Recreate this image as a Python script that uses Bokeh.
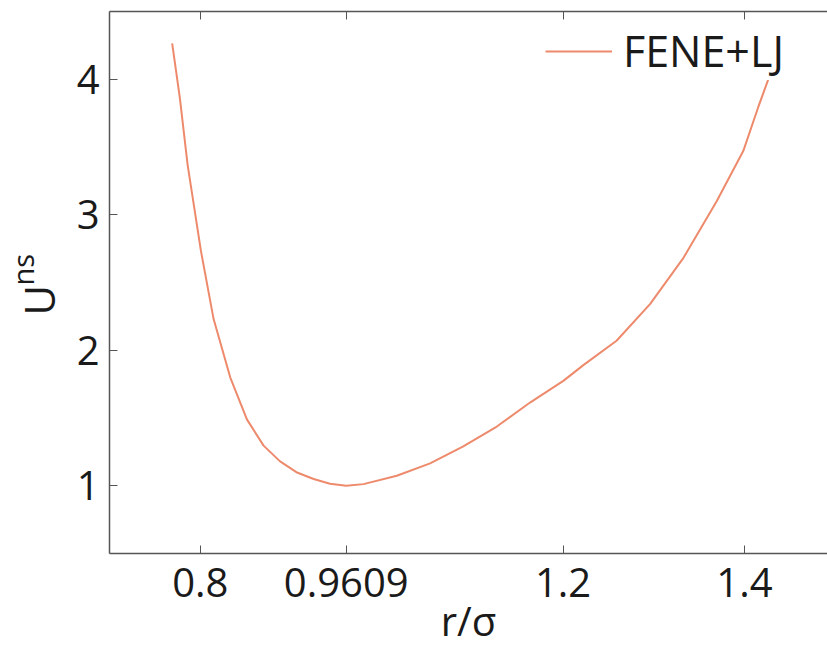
from bokeh.plotting import figure
from bokeh.models import FixedTicker, LinearAxis, Title, Range1d
from bokeh.embed import file_html
from bokeh.resources import INLINE

# data
r_vals = [0.769, 0.7775, 0.786, 0.8008, 0.8147, 0.833, 0.8514, 0.8698, 0.888, 0.906,
          0.925, 0.943, 0.9609, 0.98, 1.0167, 1.0534, 1.09, 1.127, 1.1636, 1.2003,
          1.2224, 1.259, 1.2959, 1.3326, 1.3694, 1.3987, 1.415, 1.428, 1.433]
u_vals = [4.265, 3.86, 3.37, 2.73, 2.23, 1.80, 1.49, 1.296, 1.18, 1.10,
          1.05, 1.015, 1.0, 1.012, 1.074, 1.165, 1.29, 1.437, 1.614, 1.774,
          1.89, 2.07, 2.34, 2.68, 3.10, 3.47, 3.79, 4.03, 4.12]
x_ticks = [0.8, 0.9609, 1.2, 1.4]
x_tick_labels = ["0.8", "0.9609", "1.2", "1.4"]
y_ticks = [1, 2, 3, 4]
series_name = "FENE+LJ"
x_label = "r/σ"
y_label_main = "U"
y_label_sup = "ns"

FONT = "Open Sans"
AX = "#555555"
TXT = "#1a1a1a"

p = figure(width=827, height=650, output_backend="svg", toolbar_location=None,
           x_range=Range1d(0.6999, 1.4916), y_range=Range1d(0.5, 4.5),
           min_border_left=109, min_border_right=0, min_border_top=11,
           min_border_bottom=97)
p.outline_line_color = None
p.grid.visible = False
p.background_fill_color = "white"
p.border_fill_color = "white"

p.line(r_vals, u_vals, line_color="#EE8A6C", line_width=2, legend_label=series_name)

for ax in (p.xaxis[0], p.yaxis[0]):
    ax.axis_line_color = AX
    ax.axis_line_width = 1.5
    ax.major_tick_line_color = AX
    ax.major_tick_in = 8
    ax.major_tick_out = 0
    ax.minor_tick_line_color = None
    ax.major_label_text_font = FONT
    ax.major_label_text_font_size = "40px"
    ax.major_label_text_color = TXT

p.xaxis[0].ticker = FixedTicker(ticks=x_ticks)
p.xaxis[0].major_label_overrides = {t: l for t, l in zip(x_ticks, x_tick_labels)}
p.xaxis[0].major_label_standoff = 14
p.xaxis[0].axis_label = x_label
p.xaxis[0].axis_label_text_font = FONT
p.xaxis[0].axis_label_text_font_size = "40px"
p.xaxis[0].axis_label_text_font_style = "normal"
p.xaxis[0].axis_label_text_color = TXT
p.xaxis[0].axis_label_standoff = -7
p.xaxis[0].axis_label_text_baseline = "alphabetic"

p.yaxis[0].ticker = FixedTicker(ticks=y_ticks)
p.yaxis[0].major_label_standoff = 10

top = LinearAxis(ticker=FixedTicker(ticks=x_ticks), axis_line_color=AX, axis_line_width=1.5,
                 major_tick_line_color=AX, major_tick_in=8, major_tick_out=0,
                 minor_tick_line_color=None, major_label_text_font_size="1px",
                 major_label_text_color=None, major_label_standoff=0)
p.add_layout(top, "above")

# y axis label: "U" with superscript "ns", as stacked titles on the left
t_main = Title(text=y_label_main, align="left", offset=238, text_font=FONT,
               text_font_size="42px", text_font_style="normal", text_color=TXT,
               standoff=14)
t_sup = Title(text=y_label_sup, align="left", offset=268, text_font=FONT,
              text_font_size="29px", text_font_style="normal", text_color=TXT,
              standoff=-82)
p.add_layout(t_main, "left")
p.add_layout(t_sup, "left")

lg = p.legend[0]
lg.location = (436, 473)
lg.label_text_font = FONT
lg.label_text_font_size = "43px"
lg.label_text_color = TXT
lg.glyph_width = 67
lg.label_standoff = 11
lg.padding = 0
lg.margin = 0
lg.spacing = 0
lg.border_line_color = None
lg.background_fill_color = "white"
lg.background_fill_alpha = 1.0

open("out.html", "w").write(file_html(p, INLINE))
